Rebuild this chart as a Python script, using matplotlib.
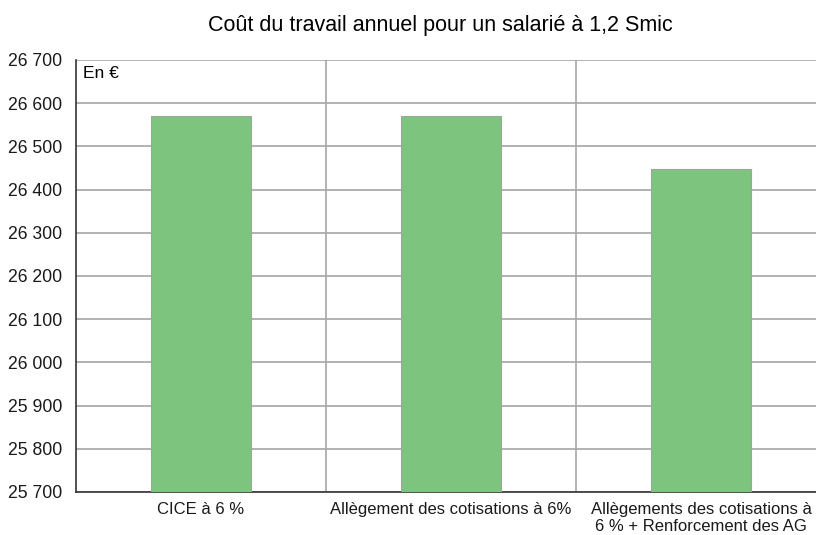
import matplotlib
matplotlib.use("Agg")
import matplotlib.pyplot as plt
from matplotlib.ticker import FuncFormatter, FixedLocator

plt.rcParams['font.family'] = ['Liberation Sans', 'DejaVu Sans']

# data
categories = ["CICE à 6 %", "Allègement des cotisations à 6%",
              "Allègements des cotisations à\n6 % + Renforcement des AG"]
values = [26570, 26570, 26447]
title = "Coût du travail annuel pour un salarié à 1,2 Smic"

fig = plt.figure(figsize=(8.16, 5.35), dpi=100)
ax = fig.add_axes([0.093, 0.0804, 0.907, 0.8075])

ax.bar(range(len(values)), values, width=0.4, bottom=0,
       color="#7dc47f", edgecolor="#9aa89a", linewidth=0.8, zorder=3)

ax.set_ylim(25700, 26700)
ax.set_xlim(-0.5, 2.46)
ax.set_yticks(range(25700, 26701, 100))
ax.yaxis.set_major_formatter(FuncFormatter(lambda v, p: f"{int(v):,}".replace(",", " ")))
ax.set_xticks(range(len(categories)))
ax.set_xticklabels(categories, fontsize=12)
ax.xaxis.set_minor_locator(FixedLocator([0.5, 1.5]))

ax.grid(axis="y", color="#a6a6a6", linewidth=1.2, zorder=0)
ax.grid(axis="x", which="minor", color="#a6a6a6", linewidth=1.2, zorder=0)
ax.tick_params(axis="both", which="both", length=0, colors="#1a1a1a")
ax.tick_params(axis="x", pad=7)
ax.tick_params(axis="y", pad=10, labelsize=12.7)

for s in ["top", "right"]:
    ax.spines[s].set_visible(False)
ax.spines["left"].set_color("#333333")
ax.spines["bottom"].set_color("#333333")
ax.spines["left"].set_linewidth(1.2)
ax.spines["bottom"].set_linewidth(1.2)

ax.text(0.01, 0.985, "En €", transform=ax.transAxes, ha="left", va="top", fontsize=12.5)
fig.text(0.54, 0.953, title, ha="center", va="center", fontsize=15.5)

fig.savefig("out.png", dpi=100)
